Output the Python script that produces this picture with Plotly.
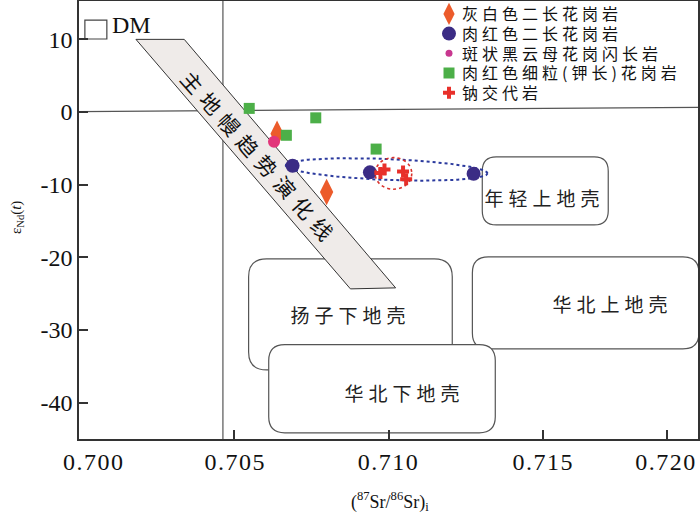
import numpy as np
import plotly.graph_objects as go

# ---------------- data ----------------
grey_name = "灰白色二长花岗岩"
grey_x = [0.7064, 0.7080]
grey_y = [-3.0, -11.0]

pink_mz_name = "肉红色二长花岗岩"
pink_mz_x = [0.7069, 0.7094, 0.71275]
pink_mz_y = [-7.4, -8.3, -8.5]

porph_name = "斑状黑云母花岗闪长岩"
porph_x = [0.7063]
porph_y = [-4.1]

fine_name = "肉红色细粒(钾长)花岗岩"
fine_x = [0.7055, 0.70765, 0.7067, 0.7096]
fine_y = [0.5, -0.8, -3.2, -5.1]

albite_name = "钠交代岩"
albite_x = [0.70987, 0.70974, 0.71047, 0.71057]
albite_y = [-7.9, -8.4, -8.2, -9.25]

x_tick_text = ["0.700", "0.705", "0.710", "0.715", "0.720"]
x_tick_pos = [0.70048, 0.70505, 0.7100, 0.7150, 0.71897]
x_tick_marks = [0.705, 0.710, 0.715, 0.719]
y_tick_vals = [10, 0, -10, -20, -30, -40]
y_tick_text = ["10", "0", "-10", "-20", "-30", "-40"]

X_RANGE = [0.700, 0.720]
Y_RANGE = [-45, 15.28]

# figure geometry
W, H = 700, 514
ML, MR, MT, MB = 79, 2, 1, 75
PX_X = (W - ML - MR) / (X_RANGE[1] - X_RANGE[0])
PX_Y = (H - MT - MB) / (Y_RANGE[1] - Y_RANGE[0])

SERIF = "Liberation Serif"
CJK = "Noto Sans CJK SC"


def rrect(x0, x1, y0, y1, r):
    rx, ry = r / PX_X, r / PX_Y
    return (f"M{x0+rx},{y1} L{x1-rx},{y1} Q{x1},{y1} {x1},{y1-ry} "
            f"L{x1},{y0+ry} Q{x1},{y0} {x1-rx},{y0} L{x0+rx},{y0} "
            f"Q{x0},{y0} {x0},{y0+ry} L{x0},{y1-ry} Q{x0},{y1} {x0+rx},{y1} Z")


fig = go.Figure()

# blue dotted envelope ellipse (centre, semi-axes in px, tilt)
ecx, ecy, ea, eb, eang = 0.70994, -7.9, 101, 10.5, np.deg2rad(-2.3)
t = np.linspace(0, 2 * np.pi, 200)
ex_px = ea * np.cos(t) * np.cos(eang) - eb * np.sin(t) * np.sin(eang)
ey_px = ea * np.cos(t) * np.sin(eang) + eb * np.sin(t) * np.cos(eang)
fig.add_trace(go.Scatter(x=ecx + ex_px / PX_X, y=ecy + ey_px / PX_Y, mode="lines",
                         line=dict(color="#2B3A9E", width=2, dash="dot"),
                         hoverinfo="skip", showlegend=False))

fig.add_trace(go.Scatter(x=grey_x, y=grey_y, mode="markers", name=grey_name,
                         marker=dict(symbol="diamond-tall", size=19, color="#EC5B2B")))
fig.add_trace(go.Scatter(x=pink_mz_x, y=pink_mz_y, mode="markers", name=pink_mz_name,
                         marker=dict(symbol="circle", size=14, color="#3B2C85")))
fig.add_trace(go.Scatter(x=porph_x, y=porph_y, mode="markers", name=porph_name,
                         showlegend=False,
                         marker=dict(symbol="circle", size=12, color="#E2367A")))
# legend entry for the porphyritic sample (small magenta dot, as in the reference key)
fig.add_trace(go.Scatter(x=[None], y=[None], mode="markers", name=porph_name,
                         marker=dict(symbol="circle", size=7, color="#C8378F")))
fig.add_trace(go.Scatter(x=fine_x, y=fine_y, mode="markers", name=fine_name,
                         marker=dict(symbol="square", size=11, color="#4CAF48")))
fig.add_trace(go.Scatter(x=albite_x, y=albite_y, mode="markers", name=albite_name,
                         marker=dict(symbol="cross", size=10, color="#E8302A")))

shapes = []
# reference lines
shapes.append(dict(type="line", xref="x", yref="y", x0=0.700, x1=0.720, y0=0.05, y1=0.65,
                   line=dict(color="#555", width=1.2), layer="below"))
shapes.append(dict(type="line", xref="x", yref="paper", x0=0.70465, x1=0.70465, y0=0, y1=1,
                   line=dict(color="#555", width=1.2), layer="below"))
# field boxes
box_line = dict(color="#555", width=1.2)
shapes.append(dict(type="path", path=rrect(0.70548, 0.71206, -35.5, -20.2, 18),
                   line=box_line, fillcolor="white", layer="below"))
shapes.append(dict(type="path", path=rrect(0.71271, 0.72003, -32.6, -19.94, 16),
                   line=box_line, fillcolor="white", layer="below"))
shapes.append(dict(type="path", path=rrect(0.70613, 0.71345, -44.15, -32.0, 16),
                   line=box_line, fillcolor="white", layer="below"))
shapes.append(dict(type="path", path=rrect(0.71303, 0.71710, -15.54, -6.18, 14),
                   line=box_line, fillcolor="white", layer="below"))
# mantle array band
shapes.append(dict(type="path",
                   path="M0.70184,10.0 L0.70340,10.0 L0.71023,-24.2 L0.70877,-24.34 Z",
                   line=dict(color="#333", width=1), fillcolor="#EFEBE9", layer="below"))
# DM box
shapes.append(dict(type="rect", xref="x", yref="y", x0=0.70019, x1=0.7009, y0=10.05, y1=12.66,
                   line=dict(color="#444", width=1.2), fillcolor="white", layer="below"))
# red dotted circle
shapes.append(dict(type="circle", xref="x", yref="y",
                   x0=0.71016 - 18.3 / PX_X, x1=0.71016 + 18.3 / PX_X,
                   y0=-8.45 - 15.8 / PX_Y, y1=-8.45 + 15.8 / PX_Y,
                   line=dict(color="#D9302A", width=1.6, dash="dot"), layer="above"))
for s in shapes:
    s.setdefault("xref", "x")
    s.setdefault("yref", "y")

ann = []
lab_font = dict(family=CJK, size=19, color="#222")
dx = 2.5 / PX_X
ann.append(dict(x=0.70868 + dx, y=-27.9, text="扬子下地壳", showarrow=False, font=lab_font))
ann.append(dict(x=0.71045 + dx, y=-38.6, text="华北下地壳", showarrow=False, font=lab_font))
ann.append(dict(x=0.71716 + dx, y=-26.3, text="华北上地壳", showarrow=False, font=lab_font))
ann.append(dict(x=0.71497 + dx, y=-11.7, text="年轻上地壳", showarrow=False, font=lab_font))
ann.append(dict(x=0.70585, y=-6.3, text="主地幔趋势演化线", showarrow=False, textangle=48.5,
                font=dict(family=CJK, size=21, color="#111")))
ann.append(dict(x=0.70168, y=11.97, text="DM", showarrow=False,
                font=dict(family=SERIF, size=24, color="#111")))
ann.append(dict(xref="paper", yref="paper", x=(17 - ML) / (W - ML - MR),
                y=(H - MB - 218) / (H - MT - MB), text="ε<sub>Nd</sub>(<i>t</i>)",
                xanchor="center", yanchor="middle",
                textangle=-90, showarrow=False, font=dict(family=SERIF, size=15, color="#111")))
ann.append(dict(xref="paper", yref="paper", x=(390 - ML) / (W - ML - MR),
                y=(H - MB - 502) / (H - MT - MB),
                text="(<sup>87</sup>Sr/<sup>86</sup>Sr)<sub>i</sub>",
                xanchor="center", yanchor="middle",
                showarrow=False, font=dict(family=SERIF, size=18, color="#111")))
for a in ann:
    a.setdefault("xref", "x")
    a.setdefault("yref", "y")

fig.update_layout(
    width=W, height=H, margin=dict(l=ML, r=MR, t=MT, b=MB, autoexpand=False),
    plot_bgcolor="white", paper_bgcolor="white",
    shapes=shapes, annotations=ann,
    legend=dict(x=(429 - ML) / (W - ML - MR), y=1 + 4 / (H - MT - MB),
                xanchor="left", yanchor="top", itemsizing="trace",
                font=dict(family=CJK, size=16, color="#111"), bgcolor="rgba(0,0,0,0)",
                tracegroupgap=0),
    xaxis=dict(range=X_RANGE, showgrid=False, zeroline=False, showline=True, mirror=True,
               linecolor="#333", linewidth=1.5, ticks="", tickmode="array",
               tickvals=x_tick_pos, ticktext=x_tick_text,
               tickfont=dict(family=SERIF, size=24, color="#111"),
               minor=dict(tickmode="array", tickvals=x_tick_marks, ticks="inside",
                          ticklen=9, tickcolor="#333", tickwidth=1.5)),
    yaxis=dict(range=Y_RANGE, showgrid=False, zeroline=False, showline=True, mirror=True,
               linecolor="#333", linewidth=1.5, ticks="inside", ticklen=9, tickwidth=1.5,
               tickcolor="#333", tickmode="array", tickvals=y_tick_vals, ticktext=y_tick_text,
               tickfont=dict(family=SERIF, size=24, color="#111")),
)

post = r"""
document.body.style.margin = '0';
document.body.style.padding = '0';
var gd = document.getElementById('{plot_id}');
var ROW = 19.7;
var SP = {'主地幔趋势演化线': '7px', '扬子下地壳': '5px', '华北下地壳': '5px',
          '华北上地壳': '5px', '年轻上地壳': '5px'};
function fixText() {
  gd.querySelectorAll('.legend [clip-path]').forEach(function (e) { e.removeAttribute('clip-path'); });
  gd.querySelectorAll('.legendtext').forEach(function (e) {
    e.style.letterSpacing = '4px';
    e.setAttribute('x', '33');
  });
  var items = gd.querySelectorAll('.legend .traces');
  if (items.length) {
    var m = /translate\(\s*([-\d.e]+)[ ,]+([-\d.e]+)\s*\)/.exec(items[0].getAttribute('transform') || '');
    if (m) {
      for (var i = 0; i < items.length; i++) {
        items[i].setAttribute('transform', 'translate(' + m[1] + ',' + (parseFloat(m[2]) + i * ROW) + ')');
      }
    }
  }
  gd.querySelectorAll('.annotation-text').forEach(function (e) {
    var s = SP[e.textContent];
    if (s) { e.style.letterSpacing = s; }
  });
  gd.querySelectorAll('.xtick text').forEach(function (e) { e.style.letterSpacing = '1.5px'; });
}
fixText();
"""

fig.write_html("out.html", post_script=post, config={"displayModeBar": False})
